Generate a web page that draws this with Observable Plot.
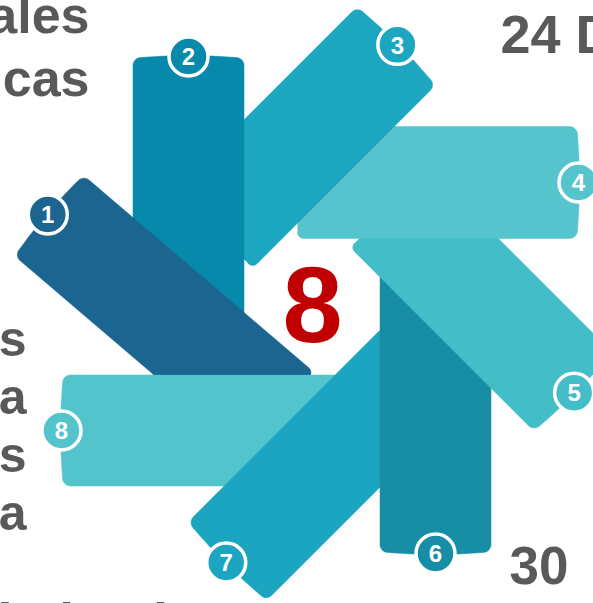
<!DOCTYPE html>
<html><head><meta charset="utf-8">
<script src="https://cdn.jsdelivr.net/npm/d3@7"></script>
<script src="https://cdn.jsdelivr.net/npm/@observablehq/plot@0.6"></script>
<style>html,body{margin:0;padding:0;overflow:hidden;background:#fff}</style>
</head><body><div id="chart"></div>
<script>
// ---- data ----
const steps   = [1, 2, 3, 4, 5, 6, 7, 8];
const angles  = [310.5, 0, 45, 90, 135, 180, 225, 270];   // blade direction, deg clockwise from "up"
const offsets = [-102, -124, -125, -124, -124, -123, -120, -124]; // centre-line offset from hub
const widths  = [106, 111, 111, 112, 111, 111, 111, 111];
const outers  = [260, 249, 244, 265, 245, 246, 241, 250];
const inners  = [-43, -40, -15, -15, -15, -35, -35, -35];
const colors  = ["#1B6590", "#0689AB", "#1DA6C0", "#55C4CC", "#43BDC7", "#188DA6", "#1CA5C0", "#53C4CC"];
const hub     = {x: 312, y: 306};
const centreLabel = "8";
const topLeftLabels = ["ales", "cas"];
const sideLetters = ["s", "a", "s", "a"];
const rightLabels = ["24 D", "30"];
const bottomStems = ["l", "l", "l"];

const W = 593, H = 603;
const gray = "#595959";
const font = "Liberation Sans, Arial, Helvetica, sans-serif";

function bladePoints(i) {
  const th = angles[i] * Math.PI / 180;
  const ax = Math.sin(th), ay = -Math.cos(th), px = Math.cos(th), py = Math.sin(th);
  const u0 = inners[i], u1 = outers[i];
  const v0 = offsets[i] - widths[i] / 2, v1 = offsets[i] + widths[i] / 2;
  const ro = 8, ri = 6, bulge = 2;
  const loc = [];
  const arc = (cu, cv, r, a0, a1) => {
    for (let k = 0; k <= 6; k++) {
      const f = (a0 + (a1 - a0) * k / 6) * Math.PI / 180;
      loc.push([cu + r * Math.cos(f), cv + r * Math.sin(f)]);
    }
  };
  arc(u0 + ri, v0 + ri, ri, 180, 270);
  arc(u1 - ro, v0 + ro, ro, -90, 0);
  for (let k = 1; k < 12; k++) {
    const t = k / 12;
    loc.push([u1 + bulge * Math.sin(Math.PI * t), v0 + ro + (v1 - v0 - 2 * ro) * t]);
  }
  arc(u1 - ro, v1 - ro, ro, 0, 90);
  arc(u0 + ri, v1 - ri, ri, 90, 180);
  return loc.map(([u, v]) => ({x: hub.x + u * ax + v * px, y: hub.y + u * ay + v * py}));
}

function clipY(pts, yCut, keepAbove) {
  const inside = p => keepAbove ? p.y <= yCut : p.y >= yCut;
  const out = [];
  for (let k = 0; k < pts.length; k++) {
    const a = pts[k], b = pts[(k + 1) % pts.length];
    const ia = inside(a), ib = inside(b);
    if (ia) out.push(a);
    if (ia !== ib) {
      const t = (yCut - a.y) / (b.y - a.y);
      out.push({x: a.x + t * (b.x - a.x), y: yCut});
    }
  }
  return out;
}

const blades = steps.map((s, i) => bladePoints(i));
const badges = steps.map((s, i) => {
  const th = angles[i] * Math.PI / 180;
  const u = outers[i] + 1, v = offsets[i];
  return {step: s, color: colors[i],
          x: hub.x + u * Math.sin(th) + v * Math.cos(th),
          y: hub.y - u * Math.cos(th) + v * Math.sin(th)};
});

const bladeMark = (pts, color) => Plot.line(pts, {x: "x", y: "y", fill: color, stroke: color, strokeWidth: 0.5, curve: "linear"});

const cut = 374;
const marks = [];
marks.push(bladeMark(clipY(blades[0], cut - 1, false), colors[0]));
for (let i = 7; i >= 1; i--) marks.push(bladeMark(blades[i], colors[i]));
marks.push(bladeMark(clipY(blades[0], cut, true), colors[0]));

marks.push(Plot.dot(badges, {x: "x", y: "y", r: 19.5, fill: "color", stroke: "white", strokeWidth: 3.5}));
marks.push(Plot.text(badges, {x: "x", y: "y", text: d => String(d.step), fill: "white", fontSize: 24, fontWeight: "bold", fontFamily: font, dy: 1}));

marks.push(Plot.text([centreLabel], {x: hub.x, y: 341, text: d => d, fill: "#C00000", fontSize: 108, fontWeight: "bold", fontFamily: font, lineAnchor: "bottom"}));

const txt = {fill: gray, fontWeight: "bold", fontFamily: font, lineAnchor: "bottom"};
marks.push(Plot.text([topLeftLabels[0]], {...txt, x: 89, y: 32, text: d => d, textAnchor: "end", fontSize: 52}));
marks.push(Plot.text([topLeftLabels[1]], {...txt, x: 89, y: 95, text: d => d, textAnchor: "end", fontSize: 52}));
sideLetters.forEach((s, k) => marks.push(Plot.text([s], {...txt, x: 26, y: 355 + k * 58.3, text: d => d, textAnchor: "end", fontSize: 50})));
marks.push(Plot.text([rightLabels[0]], {...txt, x: 500, y: 52, text: d => d, textAnchor: "start", fontSize: 54}));
marks.push(Plot.text([rightLabels[1]], {...txt, x: 509, y: 583, text: d => d, textAnchor: "start", fontSize: 53}));
const stemX = [4.5, 66, 160];
bottomStems.forEach((s, k) => marks.push(Plot.text([s], {...txt, x: stemX[k], y: 640, text: d => d, textAnchor: "middle", fontSize: 54})));

const chart = Plot.plot({
  width: W, height: H, margin: 0,
  x: {domain: [0, W], range: [0, W], axis: null},
  y: {domain: [0, H], range: [0, H], axis: null},
  style: {background: "white", overflow: "hidden"},
  marks
});
document.getElementById("chart").append(chart);
</script>
</body></html>
